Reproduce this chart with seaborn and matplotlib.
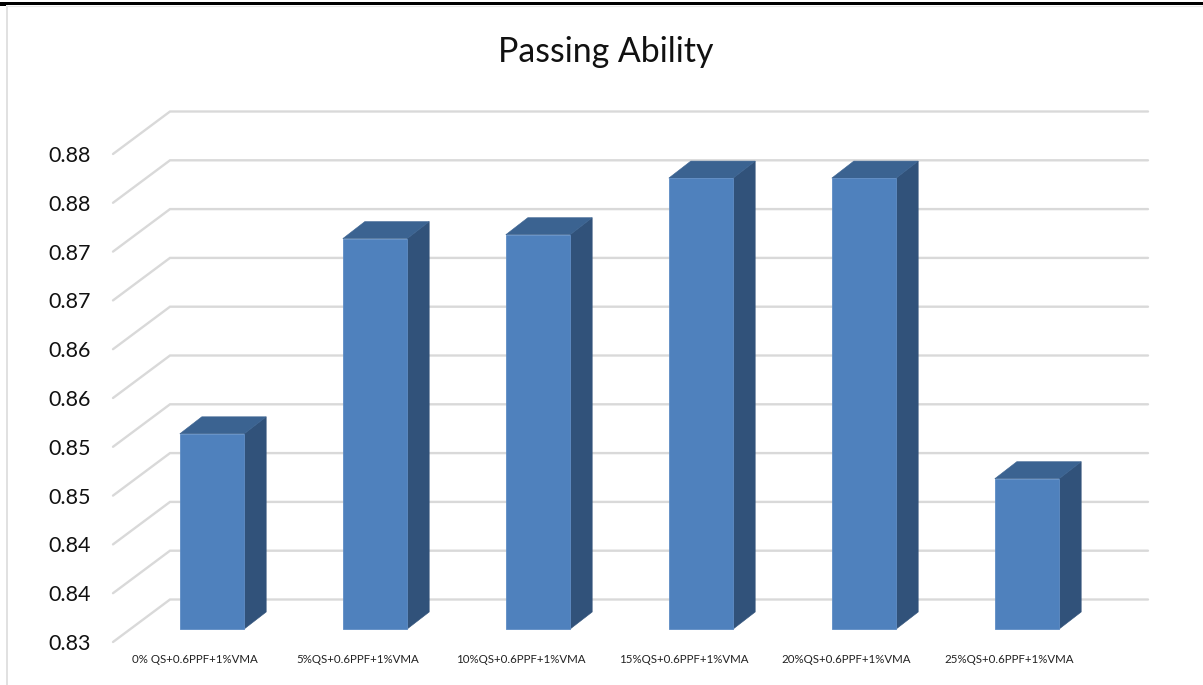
import matplotlib
matplotlib.use("Agg")
import matplotlib.pyplot as plt
from matplotlib.patches import Polygon, Rectangle
from matplotlib.lines import Line2D
import seaborn as sns

categories = ["0% QS+0.6PPF+1%VMA", "5%QS+0.6PPF+1%VMA", "10%QS+0.6PPF+1%VMA",
              "15%QS+0.6PPF+1%VMA", "20%QS+0.6PPF+1%VMA", "25%QS+0.6PPF+1%VMA"]
values = [0.8500, 0.8700, 0.8704, 0.8762, 0.8762, 0.8454]
y_ticks = [0.83, 0.835, 0.84, 0.845, 0.85, 0.855, 0.86, 0.865, 0.87, 0.875, 0.88]
y_tick_labels = ["0.83", "0.84", "0.84", "0.85", "0.85", "0.86", "0.86", "0.87", "0.87", "0.88", "0.88"]
title = "Passing Ability"

W, H = 1203, 685
FRONT, SIDE, TOP = "#4F81BD", "#31527A", "#3B6391"
GRID = "#D9D9D9"

sns.set_theme(style="white")
plt.rcParams["font.family"] = ["Lato", "DejaVu Sans"]

fig = plt.figure(figsize=(W / 100, H / 100), dpi=100, facecolor="white")
L, R, T, B = 113, 1091, 154, 642
ax = fig.add_axes([L / W, 1 - B / H, (R - L) / W, (B - T) / H])

sns.barplot(x=categories, y=values, color=FRONT, saturation=1, width=0.395, ax=ax, zorder=3)
ax.set_xlim(-0.5, 5.5)
ax.set_ylim(y_ticks[0], y_ticks[-1])

px_x = (R - L) / 6
px_y = (B - T) / (y_ticks[-1] - y_ticks[0])
wall_dx, wall_dy = 57 / px_x, 42.5 / px_y
shift_dx, shift_dy = 17.5 / px_x, 13 / px_y
depth_dx, depth_dy = 22 / px_x, 17 / px_y

# back wall grid
for yv in y_ticks:
    ax.plot([-0.5, -0.5 + wall_dx, 5.5 + wall_dx], [yv, yv + wall_dy, yv + wall_dy],
            color=GRID, lw=1.7, clip_on=False, zorder=1, solid_joinstyle="miter")

# 3D bars
base = y_ticks[0]
for patch, v in zip(ax.patches, values):
    x0 = patch.get_x() + shift_dx
    x1 = x0 + patch.get_width()
    y0 = base + shift_dy
    y1 = v + shift_dy
    patch.set_x(x0)
    patch.set_y(y0)
    patch.set_height(v - base)
    patch.set_clip_on(False)
    patch.set_edgecolor("#5E8CC4")
    patch.set_linewidth(0.6)
    ax.add_patch(Polygon([(x1, y0), (x1 + depth_dx, y0 + depth_dy), (x1 + depth_dx, y1 + depth_dy), (x1, y1)],
                         closed=True, facecolor=SIDE, edgecolor=SIDE, lw=0.4, clip_on=False, zorder=2.9))
    ax.add_patch(Polygon([(x0, y1), (x1, y1), (x1 + depth_dx, y1 + depth_dy), (x0 + depth_dx, y1 + depth_dy)],
                         closed=True, facecolor=TOP, edgecolor=TOP, lw=0.4, clip_on=False, zorder=2.9))

sns.despine(ax=ax, left=True, bottom=True)
ax.set_yticks(y_ticks)
ax.set_yticklabels(y_tick_labels, fontsize=15.5, color="#111111", va="center_baseline")
ax.set_xticks(range(len(categories)))
ax.set_xticklabels(categories, fontsize=8.3, color="#222222")
ax.tick_params(axis="y", length=0, pad=16)
ax.tick_params(axis="x", length=0, pad=8.5)
ax.grid(False)
ax.patch.set_alpha(0)

fig.text(606 / W, 1 - 52 / H, title, ha="center", va="center", fontsize=24.4, color="#111111")

# image frame
fig.add_artist(Rectangle((0, 1 - 5 / H), 1, 2.7 / H, transform=fig.transFigure, facecolor="black", edgecolor="none"))
fig.add_artist(Rectangle((0, 1 - 6 / H), 6 / W, 1 / H, transform=fig.transFigure, facecolor="black", edgecolor="none"))
fig.add_artist(Line2D([6.5 / W, 6.5 / W], [0, 1 - 6 / H], transform=fig.transFigure, color=GRID, lw=1.1))
fig.add_artist(Line2D([6.5 / W, 1], [1 - 5.8 / H, 1 - 5.8 / H], transform=fig.transFigure, color="#E8E8E8", lw=0.8))

fig.savefig("out.png", dpi=100, facecolor="white")
